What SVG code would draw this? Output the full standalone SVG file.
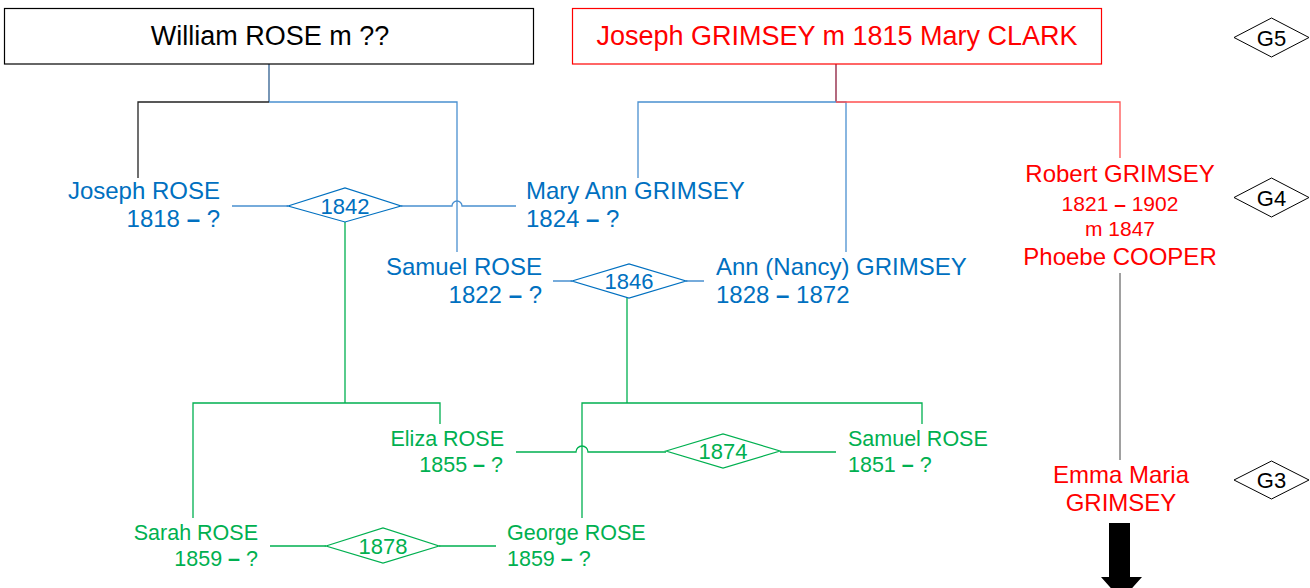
<svg xmlns="http://www.w3.org/2000/svg" width="1310" height="588" viewBox="0 0 1310 588">
<style>
text{font-family:"Liberation Sans",Arial,sans-serif;}
.box{font-size:27px;}
.big{font-size:24px;}
.gt{font-size:21.5px;}
.mid{font-size:21px;}
.lab{font-size:22px;}
.b{fill:#0070C0;}
.g{fill:#00B050;}
.r{fill:#FF0000;}
.k{fill:#000;}
.bl{stroke:#4A90D0;stroke-width:1.3;fill:none;}
.gl{stroke:#00B050;stroke-width:1.3;fill:none;}
.dash{font-weight:bold;}
</style>
<rect width="1310" height="588" fill="#fff"/>
<g id="connectors">
  <path d="M269 64 V102" stroke="#2F5F8F" stroke-width="1.3" fill="none"/>
  <path d="M138 178 V102 H269" stroke="#222" stroke-width="1.3" fill="none"/>
  <path class="bl" d="M269 102 H457 V252"/>
  <path d="M836 64 V102" stroke="#8B1A3A" stroke-width="1.3" fill="none"/>
  <path class="bl" d="M638 178 V102 H846 V252"/>
  <path d="M836 102 H1120 V158" stroke="#FF5050" stroke-width="1.3" fill="none"/>
  <path d="M1120 273 V460" stroke="#808080" stroke-width="1.5" fill="none"/>
  <path class="bl" d="M232 206 H288 M401 206 H452 A5 5 0 0 1 462 206 H516"/>
  <path class="bl" d="M553 281 H572 M686 281 H704"/>
  <path class="gl" d="M345 222 V403 M193 518 V403 H440 V424"/>
  <path class="gl" d="M627 298 V403 M582 518 V403 H922 V424"/>
  <path class="gl" d="M516 452 H576 A6 6 0 0 1 588 452 H666 M780 452 H836"/>
  <path class="gl" d="M270 546 H326 M439 546 H496"/>
</g>
<g id="william">
  <rect x="4.5" y="8.5" width="529" height="55.5" fill="#fff" stroke="#000" stroke-width="1.2"/>
  <text x="270" y="45" text-anchor="middle" class="box k">William ROSE m ??</text>
</g>
<g id="joseph-grimsey">
  <rect x="572.5" y="8.5" width="529" height="55.5" fill="#fff" stroke="#FF0000" stroke-width="1.2"/>
  <text x="837" y="45" text-anchor="middle" class="box r">Joseph GRIMSEY m 1815 Mary CLARK</text>
</g>
<g id="g5">
  <polygon points="1234,37.5 1271.5,18 1309,37.5 1271.5,57" fill="#fff" stroke="#000" stroke-width="1"/>
  <text x="1271.5" y="45.5" text-anchor="middle" class="lab k">G5</text>
</g>
<g id="g4">
  <polygon points="1234,197.5 1271.5,178 1309,197.5 1271.5,217" fill="#fff" stroke="#000" stroke-width="1"/>
  <text x="1271.5" y="205.5" text-anchor="middle" class="lab k">G4</text>
</g>
<g id="g3">
  <polygon points="1234,480 1271.5,461 1309,480 1271.5,499" fill="#fff" stroke="#000" stroke-width="1"/>
  <text x="1271.5" y="488" text-anchor="middle" class="lab k">G3</text>
</g>
<g id="joseph-rose">
  <text x="220" y="199" text-anchor="end" class="big b">Joseph ROSE</text>
  <text x="220" y="227" text-anchor="end" class="big b">1818 <tspan class="dash">–</tspan> ?</text>
</g>
<g id="m1842">
  <polygon points="288,206 345,188 401,206 345,222" fill="#fff" stroke="#0070C0" stroke-width="1.2"/>
  <text x="345" y="213.5" text-anchor="middle" class="lab b">1842</text>
</g>
<g id="mary-ann">
  <text x="526" y="199" class="big b">Mary Ann GRIMSEY</text>
  <text x="526" y="227" class="big b">1824 <tspan class="dash">–</tspan> ?</text>
</g>
<g id="samuel-rose-sr">
  <text x="542" y="275" text-anchor="end" class="big b">Samuel ROSE</text>
  <text x="542" y="303" text-anchor="end" class="big b">1822 <tspan class="dash">–</tspan> ?</text>
</g>
<g id="m1846">
  <polygon points="572,281 629,264 686,281 629,298" fill="#fff" stroke="#0070C0" stroke-width="1.2"/>
  <text x="629" y="289" text-anchor="middle" class="lab b">1846</text>
</g>
<g id="ann-nancy">
  <text x="716" y="275" class="big b">Ann (Nancy) GRIMSEY</text>
  <text x="716" y="303" class="big b">1828 <tspan class="dash">–</tspan> 1872</text>
</g>
<g id="robert">
  <text x="1120" y="182" text-anchor="middle" class="big r">Robert GRIMSEY</text>
  <text x="1120" y="211" text-anchor="middle" class="mid r">1821 <tspan class="dash">–</tspan> 1902</text>
  <text x="1120" y="236" text-anchor="middle" class="mid r">m 1847</text>
  <text x="1120" y="265" text-anchor="middle" class="big r">Phoebe COOPER</text>
</g>
<g id="eliza">
  <text x="504" y="446" text-anchor="end" class="gt g">Eliza ROSE</text>
  <text x="503" y="472" text-anchor="end" class="gt g">1855 <tspan class="dash">–</tspan> ?</text>
</g>
<g id="m1874">
  <polygon points="666,451 723,434 780,451 723,468" fill="#fff" stroke="#00B050" stroke-width="1.2"/>
  <text x="723" y="459" text-anchor="middle" class="lab g">1874</text>
</g>
<g id="samuel-rose-jr">
  <text x="848" y="446" class="gt g">Samuel ROSE</text>
  <text x="848" y="472" class="gt g">1851 <tspan class="dash">–</tspan> ?</text>
</g>
<g id="sarah">
  <text x="258" y="540" text-anchor="end" class="gt g">Sarah ROSE</text>
  <text x="258" y="566" text-anchor="end" class="gt g">1859 <tspan class="dash">–</tspan> ?</text>
</g>
<g id="m1878">
  <polygon points="326,546 383,528 439,546 383,563" fill="#fff" stroke="#00B050" stroke-width="1.2"/>
  <text x="383" y="554" text-anchor="middle" class="lab g">1878</text>
</g>
<g id="george">
  <text x="507" y="540" class="gt g">George ROSE</text>
  <text x="507" y="566" class="gt g">1859 <tspan class="dash">–</tspan> ?</text>
</g>
<g id="emma">
  <text x="1121" y="483" text-anchor="middle" class="big r">Emma Maria</text>
  <text x="1121" y="511" text-anchor="middle" class="big r">GRIMSEY</text>
</g>
<g id="arrow">
  <polygon points="1109,523 1130,523 1130,577 1142,577 1121.5,600 1101,577 1109,577" fill="#000"/>
</g>
</svg>
